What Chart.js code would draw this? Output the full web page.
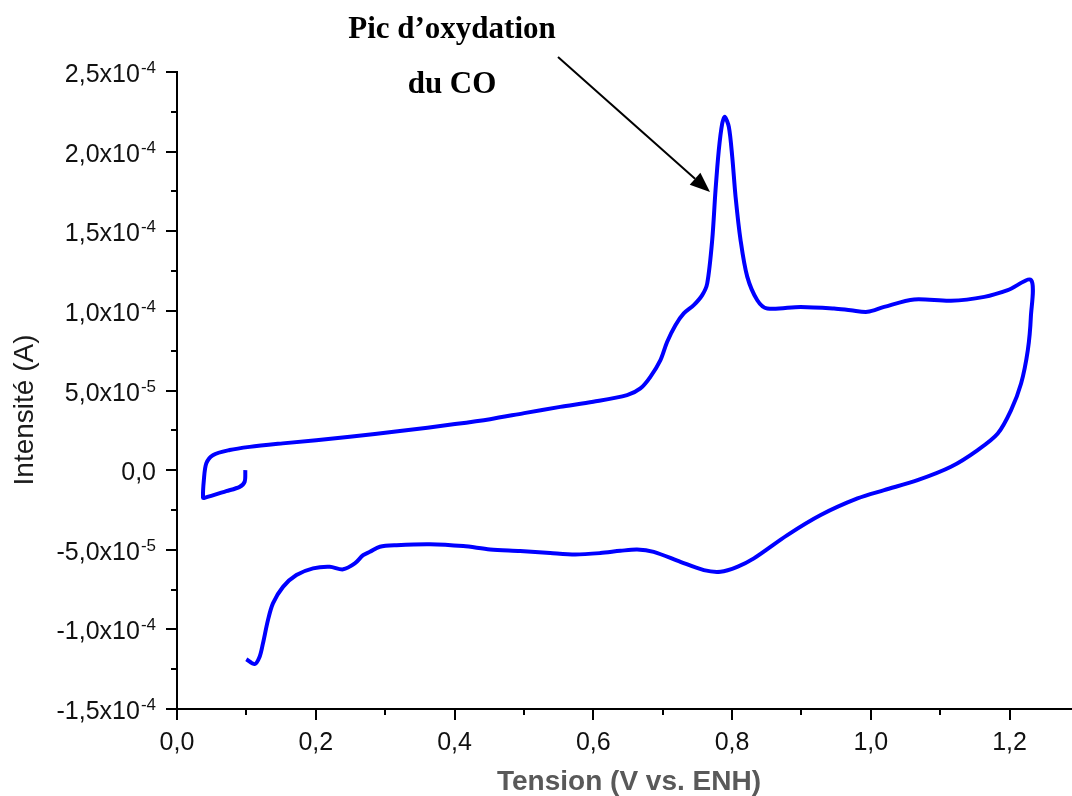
<!DOCTYPE html>
<html lang="fr">
<head>
<meta charset="utf-8">
<title>Voltampérogramme - oxydation du CO</title>
<script src="https://cdn.jsdelivr.net/npm/chart.js@4.4.1/dist/chart.umd.min.js"></script>
<style>
  html, body { margin: 0; padding: 0; background: #fff; }
  canvas { display: block; }
</style>
</head>
<body>
<canvas id="cvChart" width="1072" height="796"></canvas>
<script>
// Potential (V vs. ENH), in scan order
const tension = [
    0.0985, 0.0975, 0.0903, 0.0710, 0.0397, 0.0375, 0.0387, 0.0422, 0.0517, 0.0758,
    0.1047, 0.1523, 0.2491, 0.3213, 0.4007, 0.4513, 0.5004, 0.5523, 0.6000, 0.6487,
    0.6679, 0.6823, 0.6968, 0.7064, 0.7184, 0.7304, 0.7448, 0.7570, 0.7642, 0.7714,
    0.7762, 0.7809, 0.7858, 0.7896, 0.7954, 0.8003, 0.8051, 0.8123, 0.8219, 0.8364,
    0.8508, 0.8989, 0.9470, 0.9711, 0.9952, 1.0192, 1.0625, 1.1155, 1.1636, 1.1974,
    1.2310, 1.2307, 1.2263, 1.2166, 1.2022, 1.1830, 1.1541, 1.1155, 1.0674, 1.0192,
    0.9808, 0.9278, 0.8797, 0.8315, 0.8075, 0.7834, 0.7593, 0.7256, 0.6871, 0.6631,
    0.6390, 0.6101, 0.5740, 0.5379, 0.4946, 0.4513, 0.4127, 0.3646, 0.3165, 0.2924,
    0.2780, 0.2683, 0.2563, 0.2394, 0.2202, 0.1961, 0.1721, 0.1528, 0.1383, 0.1311,
    0.1239, 0.1191, 0.1119, 0.0999
];
// Current, in units of 1e-5 A
const intensite = [
    0.00, -0.73, -1.05, -1.32, -1.74, -1.73, -0.63, 0.42, 0.94, 1.26,
    1.46, 1.68, 2.09, 2.45, 2.89, 3.20, 3.58, 3.97, 4.29, 4.71,
    5.13, 5.86, 6.91, 8.05, 9.10, 9.84, 10.36, 10.99, 11.72, 14.44,
    17.58, 20.09, 21.76, 22.18, 21.55, 19.67, 17.16, 14.44, 12.15, 10.67,
    10.15, 10.25, 10.15, 10.04, 9.94, 10.25, 10.72, 10.63, 10.88, 11.30,
    11.93, 9.62, 7.53, 5.44, 3.77, 2.30, 1.26, 0.21, -0.63, -1.26,
    -1.78, -2.82, -4.08, -5.54, -6.07, -6.38, -6.28, -5.76, -5.13, -4.98,
    -5.07, -5.21, -5.30, -5.21, -5.08, -4.98, -4.77, -4.65, -4.71, -4.81,
    -5.13, -5.34, -5.86, -6.23, -6.07, -6.17, -6.59, -7.33, -8.37, -9.42,
    -10.88, -11.72, -12.18, -11.88
];

// Axis ticks
const xMajorTicks = [0, 0.2, 0.4, 0.6, 0.8, 1.0, 1.2];
const xMinorTicks = [0.1, 0.3, 0.5, 0.7, 0.9, 1.1];
const xTickLabels = ['0,0', '0,2', '0,4', '0,6', '0,8', '1,0', '1,2'];
const yMajorTicks = [-1.5e-4, -1.0e-4, -5e-5, 0, 5e-5, 1.0e-4, 1.5e-4, 2.0e-4, 2.5e-4];
const yMinorTicks = [-1.25e-4, -0.75e-4, -0.25e-4, 0.25e-4, 0.75e-4, 1.25e-4, 1.75e-4, 2.25e-4];
const yTickLabels = ['-1,5x10', '-1,0x10', '-5,0x10', '0,0', '5,0x10', '1,0x10', '1,5x10', '2,0x10', '2,5x10'];
const yTickExponents = ['-4', '-4', '-5', '', '-5', '-4', '-4', '-4', '-4'];

const points = tension.map((v, i) => ({ x: v, y: intensite[i] * 1e-5 }));

// Draw ticks, labels, titles and the annotation
const decorations = {
    id: 'decorations',
    afterDraw(chart) {
        const ctx = chart.ctx;
        const xs = chart.scales.x;
        const ys = chart.scales.y;
        const area = chart.chartArea;

        ctx.save();
        ctx.strokeStyle = '#000';
        ctx.lineWidth = 2;

        // x ticks
        xMajorTicks.forEach(v => {
            const px = Math.round(xs.getPixelForValue(v));
            ctx.beginPath();
            ctx.moveTo(px, area.bottom);
            ctx.lineTo(px, area.bottom + 11);
            ctx.stroke();
        });
        xMinorTicks.forEach(v => {
            const px = Math.round(xs.getPixelForValue(v));
            ctx.beginPath();
            ctx.moveTo(px, area.bottom);
            ctx.lineTo(px, area.bottom + 6);
            ctx.stroke();
        });

        // y ticks
        yMajorTicks.forEach(v => {
            const py = Math.round(ys.getPixelForValue(v));
            ctx.beginPath();
            ctx.moveTo(area.left, py);
            ctx.lineTo(area.left - 11, py);
            ctx.stroke();
        });
        yMinorTicks.forEach(v => {
            const py = Math.round(ys.getPixelForValue(v));
            ctx.beginPath();
            ctx.moveTo(area.left, py);
            ctx.lineTo(area.left - 6, py);
            ctx.stroke();
        });

        // x labels
        ctx.fillStyle = '#111';
        ctx.font = '25px "Liberation Sans", Arial, sans-serif';
        ctx.textAlign = 'center';
        ctx.textBaseline = 'alphabetic';
        xMajorTicks.forEach((v, i) => {
            ctx.fillText(xTickLabels[i], xs.getPixelForValue(v), 750);
        });

        // y labels with superscript exponent
        const rightEdge = 156;
        yMajorTicks.forEach((v, i) => {
            const py = ys.getPixelForValue(v);
            const exp = yTickExponents[i];
            ctx.textAlign = 'right';
            let expW = 0;
            if (exp) {
                ctx.font = '17px "Liberation Sans", Arial, sans-serif';
                expW = ctx.measureText(exp).width;
                ctx.fillText(exp, rightEdge, py + 1);
            }
            ctx.font = '25px "Liberation Sans", Arial, sans-serif';
            ctx.fillText(yTickLabels[i], rightEdge - expW - (exp ? 1 : 0), py + 10);
        });

        // axis titles
        ctx.textAlign = 'center';
        ctx.fillStyle = '#595959';
        ctx.font = 'bold 28px "Liberation Sans", Arial, sans-serif';
        ctx.fillText('Tension (V vs. ENH)', 629, 790);

        ctx.save();
        ctx.translate(33, 410);
        ctx.rotate(-Math.PI / 2);
        ctx.fillStyle = '#1a1a1a';
        ctx.font = '28px "Liberation Sans", Arial, sans-serif';
        ctx.fillText('Intensité (A)', 0, 0);
        ctx.restore();

        // annotation
        ctx.fillStyle = '#000';
        ctx.font = 'bold 31px "Liberation Serif", "Times New Roman", serif';
        ctx.fillText('Pic d\u2019oxydation', 452, 38);
        ctx.fillText('du CO', 452, 93);

        const x0 = 558, y0 = 57, x1 = 710, y1 = 192;
        const ang = Math.atan2(y1 - y0, x1 - x0);
        const headLen = 20, headW = 8;
        const bx = x1 - headLen * Math.cos(ang);
        const by = y1 - headLen * Math.sin(ang);
        ctx.beginPath();
        ctx.moveTo(x0, y0);
        ctx.lineTo(bx, by);
        ctx.stroke();
        ctx.beginPath();
        ctx.moveTo(x1, y1);
        ctx.lineTo(bx + headW * Math.sin(ang), by - headW * Math.cos(ang));
        ctx.lineTo(bx - headW * Math.sin(ang), by + headW * Math.cos(ang));
        ctx.closePath();
        ctx.fill();

        ctx.restore();
    }
};

const ctx = document.getElementById('cvChart').getContext('2d');
const cvChart = new Chart(ctx, {
    type: 'scatter',
    data: {
        datasets: [{
            data: points,
            showLine: true,
            borderColor: '#0000ff',
            borderWidth: 4,
            pointRadius: 0,
            tension: 0.3,
            fill: false
        }]
    },
    options: {
        responsive: false,
        animation: false,
        layout: {
            padding: { top: 72, right: 0, left: 0, bottom: 0 }
        },
        plugins: {
            legend: { display: false },
            tooltip: { enabled: false }
        },
        scales: {
            x: {
                type: 'linear',
                min: 0,
                max: 1.29,
                grid: { display: false },
                border: { display: true, color: '#000', width: 2 },
                ticks: { display: false },
                afterFit: scale => { scale.height = 87; }
            },
            y: {
                type: 'linear',
                min: -1.5e-4,
                max: 2.5e-4,
                grid: { display: false },
                border: { display: true, color: '#000', width: 2 },
                ticks: { display: false },
                afterFit: scale => { scale.width = 177; }
            }
        }
    },
    plugins: [decorations]
});
</script>
</body>
</html>
